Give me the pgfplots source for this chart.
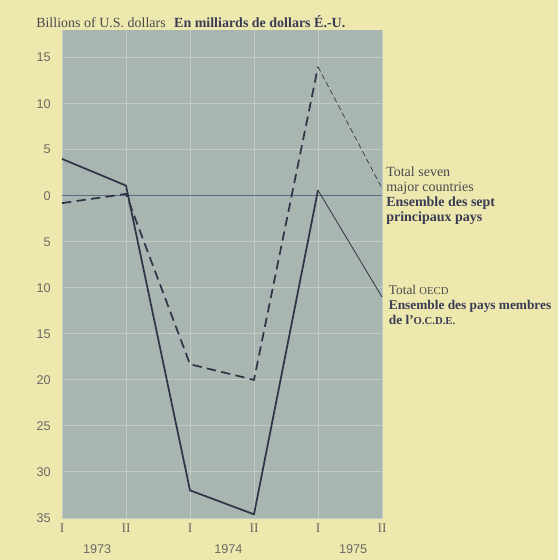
\documentclass[border=0pt]{standalone}
\usepackage{fontspec}
\setmainfont{Liberation Serif}
\setsansfont{Liberation Sans}
\usepackage{pgfplots}
\pgfplotsset{compat=1.18}

\definecolor{paper}{HTML}{EDE8AE}
\definecolor{plotbg}{HTML}{A8B5B0}
\definecolor{gridc}{HTML}{C3CCC4}
\definecolor{ink}{HTML}{2F3448}
\definecolor{zero}{HTML}{5D6B7E}
\definecolor{txt}{HTML}{4B4A4E}
\definecolor{frtxt}{HTML}{3A3C55}
\definecolor{ticktxt}{HTML}{6C6963}

\begin{document}
\begin{tikzpicture}
  \fill[paper] (0,0) rectangle (418.5pt,420pt);
  \path[use as bounding box] (0,0) rectangle (418.5pt,420pt);

  % header
  \node[anchor=west, inner sep=0pt, font=\fontsize{10.5}{12}\selectfont]
    at (27pt,404pt) {\textcolor{txt}{Billions of U.S. dollars}\hspace{0.6em}\textcolor{frtxt}{\textbf{En milliards de dollars É.-U.}}};

  \begin{axis}[
      at={(46.5pt,31.5pt)}, anchor=south west,
      scale only axis, width=240pt, height=366pt,
      xmin=0, xmax=5, ymin=-35, ymax=18,
      axis background/.style={fill=plotbg},
      axis line style={draw=none},
      tick style={draw=none},
      grid=major, grid style={gridc, line width=0.7pt},
      xtick={0,...,5}, xticklabels={I,II,I,II,I,II},
      xticklabel style={font=\fontsize{10}{11}\selectfont\rmfamily, text=ticktxt, yshift=-1pt},
      ytick={-35,-30,...,15},
      yticklabels={35,30,25,20,15,10,5,0,5,10,15},
      yticklabel style={font=\fontsize{9.5}{11}\selectfont\sffamily, text=ticktxt, xshift=-5pt},
      clip=false,
    ]
    % zero line
    \addplot[zero, line width=0.6pt] coordinates {(0,0) (5,0)};

    % Total OECD (solid)
    \addplot[ink, line width=1.3pt] coordinates {
      (0,4) (1,1.1) (2,-32) (3,-34.6) (4,0.6)};
    \addplot[ink, line width=0.6pt] coordinates {(4,0.6) (5,-11)};

    % Total seven major countries (dashed)
    \addplot[ink, line width=1.3pt, dash pattern=on 7pt off 4pt] coordinates {
      (0,-0.8) (1,0.2) (2,-18.3) (3,-20) (4,14)};
    \addplot[ink, line width=0.5pt, dash pattern=on 4pt off 2.5pt] coordinates {(4,14) (5,0.8)};

    % years
    \node[font=\fontsize{9.5}{11}\selectfont\sffamily, text=ticktxt] at (axis cs:0.55,-35) [yshift=-23pt] {1973};
    \node[font=\fontsize{9.5}{11}\selectfont\sffamily, text=ticktxt] at (axis cs:2.6,-35) [yshift=-23pt] {1974};
    \node[font=\fontsize{9.5}{11}\selectfont\sffamily, text=ticktxt] at (axis cs:4.55,-35) [yshift=-23pt] {1975};

    % series labels
    \node[anchor=north west, align=left, inner sep=0pt, xshift=3pt,
          font=\fontsize{10.5}{11.3}\selectfont] at (axis cs:5,3.2)
      {\textcolor{txt}{Total seven}\\\textcolor{txt}{major countries}\\
       \textcolor{frtxt}{\textbf{Ensemble des sept}}\\\textcolor{frtxt}{\textbf{principaux pays}}};
    \node[anchor=north west, align=left, inner sep=0pt, xshift=5pt,
          font=\fontsize{10}{11.3}\selectfont] at (axis cs:5,-9.7)
      {\textcolor{txt}{Total {\fontsize{8}{9}\selectfont OECD}}\\
       \textcolor{frtxt}{\textbf{Ensemble des pays membres}}\\
       \textcolor{frtxt}{\textbf{de l'{\fontsize{8}{9}\selectfont O.C.D.E.}}}};
  \end{axis}
\end{tikzpicture}
\end{document}
